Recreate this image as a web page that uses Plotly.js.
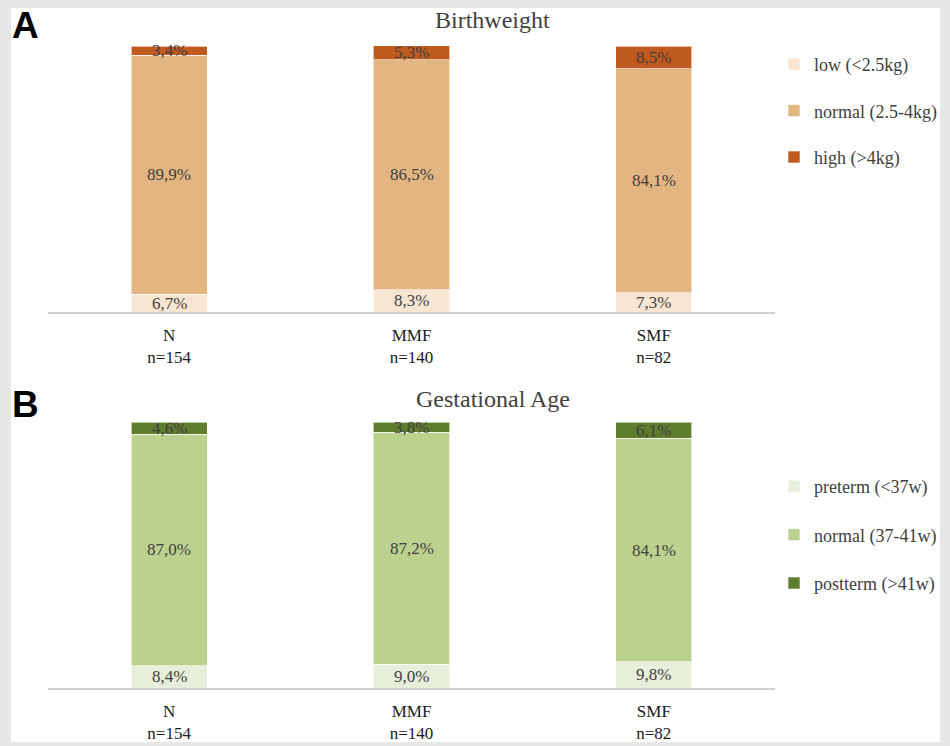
<!DOCTYPE html>
<html>
<head>
<meta charset="utf-8">
<script src="https://cdn.plot.ly/plotly-3.0.1.min.js"></script>
<style>
  html, body { margin: 0; padding: 0; background: #e6e7e9; width: 950px; height: 746px; overflow: hidden; }
  #chart { position: absolute; left: 0; top: 0; width: 950px; height: 746px; }
</style>
</head>
<body>
<div id="chart"></div>
<script>
// ---- data ----
const groups = ['N', 'MMF', 'SMF'];
const groupN = ['n=154', 'n=140', 'n=82'];

const bwNames = ['low (<2.5kg)', 'normal (2.5-4kg)', 'high (>4kg)'];
const bwLow = [6.7, 8.3, 7.3];
const bwNormal = [89.9, 86.5, 84.1];
const bwHigh = [3.4, 5.3, 8.5];

const gaNames = ['preterm (<37w)', 'normal (37-41w)', 'postterm (>41w)'];
const gaPre = [8.4, 9.0, 9.8];
const gaNormal = [87.0, 87.2, 84.1];
const gaPost = [4.6, 3.8, 6.1];

const bwColors = ['#f8e6d2', '#e2b581', '#c05a1e'];
const gaColors = ['#e7eed9', '#bdd18f', '#5f7d2e'];

const tickText = groups.map((g, i) => g + '<br>' + groupN[i]);
const fmt = v => v.toFixed(1).replace('.', ',') + '%';

const serif = 'Liberation Serif, Times New Roman, serif';

function mk(vals, name, color, xa, ya, leg, grp) {
  return {
    type: 'bar', x: groups, y: vals, name: name,
    xaxis: xa, yaxis: ya, legend: leg, legendgroup: grp,
    marker: { color: color, line: { color: 'rgba(255,255,255,0.6)', width: 1 } },
    hoverinfo: 'skip'
  };
}

const data = [
  mk(bwLow, bwNames[0], bwColors[0], 'x', 'y', 'legend', 'a1'),
  mk(bwNormal, bwNames[1], bwColors[1], 'x', 'y', 'legend', 'a2'),
  mk(bwHigh, bwNames[2], bwColors[2], 'x', 'y', 'legend', 'a3'),
  mk(gaPre, gaNames[0], gaColors[0], 'x2', 'y2', 'legend2', 'b1'),
  mk(gaNormal, gaNames[1], gaColors[1], 'x2', 'y2', 'legend2', 'b2'),
  mk(gaPost, gaNames[2], gaColors[2], 'x2', 'y2', 'legend2', 'b3')
];

// value labels centred in each stacked segment (positions from the data through the axes)
function segLabels(seriesList, xref, yref) {
  const out = [];
  const base = groups.map(() => 0);
  seriesList.forEach(vals => {
    vals.forEach((v, i) => {
      out.push({
        text: fmt(v), x: groups[i], y: base[i] + v / 2, xref: xref, yref: yref,
        xanchor: 'center', yanchor: 'middle', showarrow: false,
        font: { family: serif, size: 17, color: '#404040' }
      });
      base[i] += v;
    });
  });
  return out;
}

const W = 950, H = 746;
const px = v => v / W;
const py = v => 1 - v / H;

const xaxisBase = {
  tickmode: 'array', tickvals: groups, ticktext: tickText,
  showline: true, linecolor: '#d0d0d0', linewidth: 1.5,
  ticks: '', showgrid: false, zeroline: false, fixedrange: true,
  ticklabelstandoff: 7,
  tickfont: { family: serif, size: 17, color: '#1a1a1a' }
};
const yaxisBase = { range: [0, 100], visible: false, fixedrange: true };

const legendBase = {
  font: { family: serif, size: 18, color: '#404040' },
  bgcolor: 'rgba(0,0,0,0)', traceorder: 'grouped', tracegroupgap: 20,
  itemclick: false, itemdoubleclick: false, xanchor: 'left', yanchor: 'top',
  xref: 'paper', yref: 'paper'
};

const layout = {
  width: W, height: H,
  margin: { l: 0, r: 0, t: 0, b: 0 },
  paper_bgcolor: '#e6e7e9', plot_bgcolor: 'rgba(0,0,0,0)',
  barmode: 'stack', bargap: 0.686,
  showlegend: true,
  shapes: [
    { type: 'rect', xref: 'paper', yref: 'paper', layer: 'below',
      x0: px(11), x1: px(940), y0: py(742), y1: py(8),
      fillcolor: '#ffffff', line: { width: 0 } }
  ],
  xaxis: Object.assign({}, xaxisBase, { domain: [px(48), px(775)], anchor: 'y' }),
  yaxis: Object.assign({}, yaxisBase, { domain: [py(312), py(46)], anchor: 'x' }),
  xaxis2: Object.assign({}, xaxisBase, { domain: [px(48), px(775)], anchor: 'y2' }),
  yaxis2: Object.assign({}, yaxisBase, { domain: [py(688), py(422)], anchor: 'x2' }),
  legend: Object.assign({}, legendBase, { x: px(774), y: py(46) }),
  legend2: Object.assign({}, legendBase, { x: px(774), y: py(468), tracegroupgap: 22 }),
  annotations: [
    { text: 'Birthweight', xref: 'paper', yref: 'paper', x: px(492), y: py(20),
      xanchor: 'center', yanchor: 'middle', showarrow: false,
      font: { family: serif, size: 24, color: '#404040' } },
    { text: 'Gestational Age', xref: 'paper', yref: 'paper', x: px(493), y: py(399),
      xanchor: 'center', yanchor: 'middle', showarrow: false,
      font: { family: serif, size: 24, color: '#404040' } },
    { text: '<b>A</b>', xref: 'paper', yref: 'paper', x: px(10), y: py(25),
      xanchor: 'left', yanchor: 'middle', showarrow: false,
      font: { family: 'Liberation Sans, Arial, sans-serif', size: 37, color: '#000000' } },
    { text: '<b>B</b>', xref: 'paper', yref: 'paper', x: px(10), y: py(404),
      xanchor: 'left', yanchor: 'middle', showarrow: false,
      font: { family: 'Liberation Sans, Arial, sans-serif', size: 37, color: '#000000' } }
  ].concat(
    segLabels([bwLow, bwNormal, bwHigh], 'x', 'y'),
    segLabels([gaPre, gaNormal, gaPost], 'x2', 'y2')
  )
};

Plotly.newPlot('chart', data, layout, { displayModeBar: false });
</script>
</body>
</html>
